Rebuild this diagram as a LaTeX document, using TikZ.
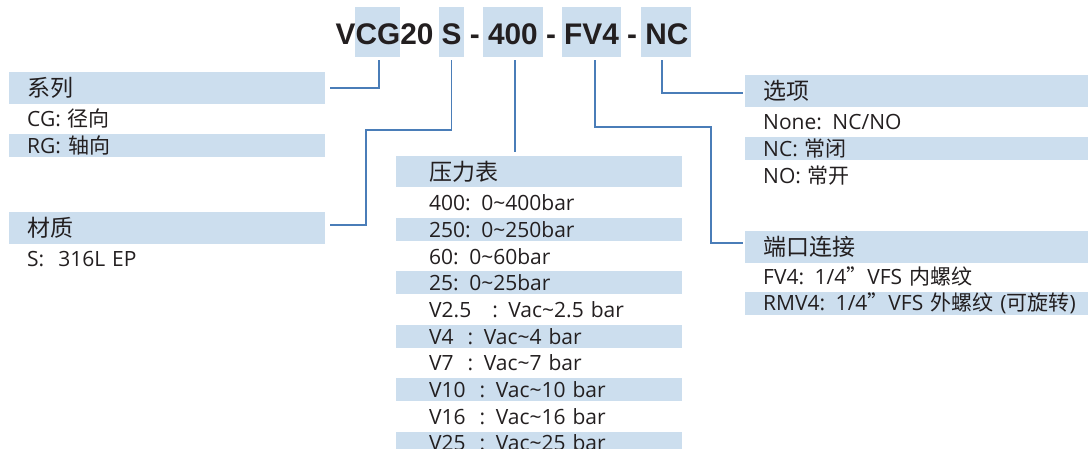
\documentclass[tikz,border=0pt]{standalone}
\usepackage{fontspec}
\setmainfont{Open Sans}
\newfontfamily\cjk{Noto Sans CJK SC}
\newfontfamily\titlefont{Liberation Sans}
\newcommand{\zh}[1]{{\cjk #1}}
\definecolor{boxblue}{HTML}{CCDEEE}
\definecolor{linkblue}{HTML}{4A7DB8}
\definecolor{ink}{HTML}{231F20}
\tikzset{
  keybox/.style={fill=boxblue, inner sep=0pt, minimum height=50pt},
  hdr/.style={anchor=north west, fill=boxblue, inner ysep=0pt, minimum height=31.5pt,
    align=left, text=ink, font=\cjk\fontsize{23}{23}\selectfont},
  row/.style={anchor=north west, inner ysep=0pt, minimum height=23pt,
    align=left, text=ink, font=\fontsize{21}{21}\selectfont},
  band/.style={row, fill=boxblue},
  leftcol/.style={text width=280pt, inner xsep=18pt},
  midcol/.style={text width=220pt, inner xsep=33pt},
  rightcol/.style={text width=307pt, inner xsep=18pt},
  link/.style={draw=linkblue, line width=1.5pt}
}
\begin{document}
\begin{tikzpicture}[x=1pt, y=-1pt]
  \useasboundingbox (0,0) rectangle (1088,449);
  % part number
  \node[keybox, minimum width=45pt] (kCG) at (377.5,32) {};
  \node[keybox, minimum width=25pt] (kS) at (451.5,32) {};
  \node[keybox, minimum width=60pt] (k400) at (513,32) {};
  \node[keybox, minimum width=59pt] (kFV4) at (591.5,32) {};
  \node[keybox, minimum width=50pt] (kNC) at (666,32) {};
  \node[anchor=base west, inner sep=0pt, text=ink, font=\titlefont\bfseries\fontsize{29.8}{29.8}\selectfont]
    (title) at (335.5,45) {VCG20 S - 400 - FV4 - NC};

  % series
  \node[hdr, leftcol] (hSeries) at (9,72) {系列};
  \node[row, leftcol] (rCG) at (9,107.3) {CG: \zh{径向}};
  \node[band, leftcol] (rRG) at (9,134) {RG: \zh{轴向}};

  % material
  \node[hdr, leftcol] (hMat) at (9,212) {材质};
  \node[row, leftcol] (rS) at (9,247) {S:\ \ 316L EP};

  % pressure
  \node[hdr, midcol] (hPress) at (396,155.5) {压力表};
  \node[row, midcol] (r400) at (396,191.3) {400: 0\textasciitilde400bar};
  \node[band, midcol] (r250) at (396,218) {250: 0\textasciitilde250bar};
  \node[row, midcol] (r60) at (396,244.7) {60: 0\textasciitilde60bar};
  \node[band, midcol] (r25) at (396,271.3) {25: 0\textasciitilde25bar};
  \node[row, midcol] (rV2) at (396,298) {V2.5\ \ \ : Vac\textasciitilde2.5 bar};
  \node[band, midcol] (rV4) at (396,324.7) {V4\ \ : Vac\textasciitilde4 bar};
  \node[row, midcol] (rV7) at (396,351.3) {V7\ \ : Vac\textasciitilde7 bar};
  \node[band, midcol] (rV10) at (396,378) {V10\ \ : Vac\textasciitilde10 bar};
  \node[row, midcol] (rV16) at (396,404.7) {V16\ \ : Vac\textasciitilde16 bar};
  \node[band, midcol] (rV25) at (396,431.3) {V25\ \ : Vac\textasciitilde25 bar};

  % options
  \node[hdr, rightcol] (hOpt) at (745,75) {选项};
  \node[row, rightcol] (rNone) at (745,110.3) {None: NC/NO};
  \node[band, rightcol] (rNC) at (745,137) {NC: \zh{常闭}};
  \node[row, rightcol] (rNO) at (745,163.7) {NO: \zh{常开}};

  % port
  \node[hdr, rightcol] (hPort) at (745,231) {端口连接};
  \node[row, rightcol] (rFV4) at (745,265.3) {FV4: 1/4\zh{”}VFS \zh{内螺纹}};
  \node[band, rightcol, text width=340pt] (rRMV4) at (745,292) {RMV4: 1/4\zh{”}VFS \zh{外螺纹} (\zh{可旋转})};

  % links
  \draw[link] ([xshift=1.5pt,yshift=-3pt]kCG.south) |- ([xshift=5pt]hSeries.east);
  \draw[link] ([yshift=-3pt]kS.south) |- (366,130) |- ([xshift=5pt,yshift=3pt]hMat.east);
  \draw[link] ([xshift=2pt,yshift=-3pt]k400.south) -- ([xshift=2pt,yshift=3pt]k400.south |- hPress.north);
  \draw[link] ([xshift=3.5pt,yshift=-3pt]kFV4.south) |- (711,127) |- ([xshift=-2pt,yshift=4pt]hPort.west);
  \draw[link] ([xshift=-4pt,yshift=-3pt]kNC.south) |- ([xshift=-2pt,yshift=-2pt]hOpt.west);
\end{tikzpicture}
\end{document}
